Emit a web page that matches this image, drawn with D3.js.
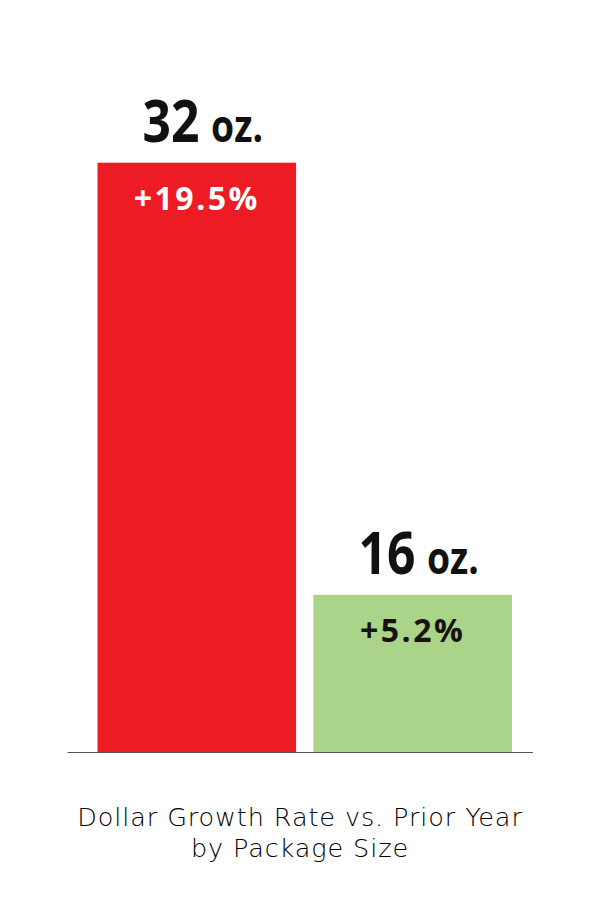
<!DOCTYPE html>
<html>
<head>
<meta charset="utf-8">
<script src="https://cdn.jsdelivr.net/npm/d3@7"></script>
<style>
body{margin:0;background:#fff;}
</style>
</head>
<body>
<script>
// data
const sizes=["32","16"];
const growth=[19.5,5.2];
const colors=["#ED1C24","#A9D489"];
const valueColors=["#ffffff","#1a1111"];
const caption=["Dollar Growth Rate vs. Prior Year","by Package Size"];

const w=600, h=900;

const svg=d3.select("body").append("svg")
  .attr("width",w).attr("height",h);

const x=d3.scaleBand().domain(sizes).range([97.5,512]).paddingInner(0.08).paddingOuter(0);
const y=d3.scaleLinear().domain([0,19.5]).range([752,162.7]);

const bars=svg.selectAll("g.bar")
  .data(sizes.map((s,i)=>({size:s,value:growth[i],i:i})))
  .enter().append("g").attr("class","bar");

bars.append("rect")
  .attr("x",d=>x(d.size))
  .attr("y",d=>y(d.value))
  .attr("width",x.bandwidth())
  .attr("height",d=>y(0)-y(d.value))
  .attr("fill",d=>colors[d.i]);

// size label above bar (narrowed to look condensed)
const lab=bars.append("text")
  .attr("transform",d=>"translate("+(x(d.size)+x.bandwidth()/2+6)+","+(y(d.value)-21)+") scale(0.83,1)")
  .attr("text-anchor","middle")
  .style("font-family","'Open Sans',sans-serif")
  .style("font-weight",700)
  .attr("fill","#111");
lab.append("tspan").style("font-size","60px").text(d=>d.size);
lab.append("tspan").style("font-size","45px").attr("dx",14).text("oz.");

// value label inside bar
bars.append("text")
  .attr("x",d=>x(d.size)+x.bandwidth()/2)
  .attr("y",d=>y(d.value)+47)
  .attr("text-anchor","middle")
  .style("font-family","'Open Sans',sans-serif")
  .style("font-weight",700)
  .style("font-size","32px")
  .style("letter-spacing","2.5px")
  .attr("fill",d=>valueColors[d.i])
  .text(d=>"+"+d.value.toFixed(1)+"%");

// baseline
svg.append("line")
  .attr("x1",x.range()[0]-30).attr("x2",x.range()[1]+21)
  .attr("y1",y(0)+0.5).attr("y2",y(0)+0.5)
  .attr("stroke","#555").attr("stroke-width",1);

// caption
svg.append("g").selectAll("text")
  .data(caption).enter().append("text")
  .attr("x",w/2)
  .attr("y",(d,i)=>826+i*31)
  .attr("text-anchor","middle")
  .style("font-family","'DejaVu Sans',sans-serif")
  .style("font-weight",200)
  .style("font-size","25.5px")
  .style("letter-spacing","0.9px")
  .attr("fill","#000")
  .text(d=>d);
</script>
</body>
</html>
